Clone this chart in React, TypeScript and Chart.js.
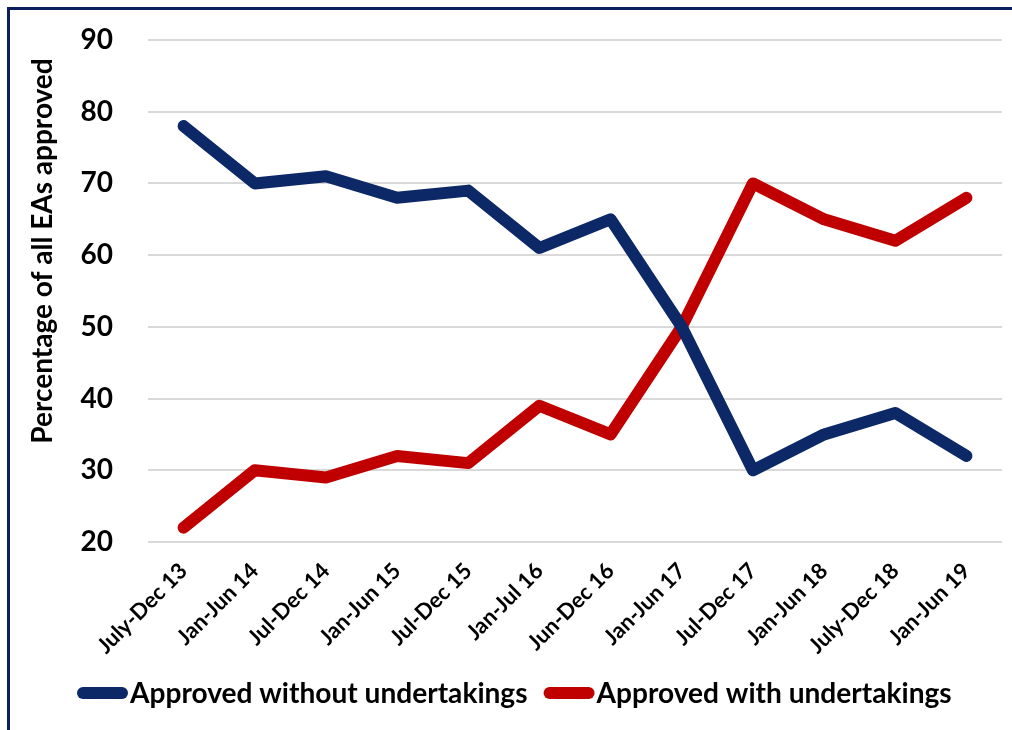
import React, { useEffect, useRef } from "react";
import { Chart, registerables } from "chart.js";

Chart.register(...registerables);

const categories = [
  "July-Dec 13", "Jan-Jun 14", "Jul-Dec 14", "Jan-Jun 15", "Jul-Dec 15", "Jan-Jul 16",
  "Jun-Dec 16", "Jan-Jun 17", "Jul-Dec 17", "Jan-Jun 18", "July-Dec 18", "Jan-Jun 19",
];
const withoutUndertakings = [78, 70, 71, 68, 69, 61, 65, 50, 30, 35, 38, 32];
const withUndertakings = [22, 30, 29, 32, 31, 39, 35, 50, 70, 65, 62, 68];
const seriesNames = ["Approved without undertakings", "Approved with undertakings"];
const yTitle = "Percentage of all EAs approved";

const NAVY = "#0c2866";
const RED = "#c00000";
const FONT = "Lato, 'Open Sans', sans-serif";

const titleAndLegend = {
  id: "titleAndLegend",
  afterDraw(chart: any) {
    const ctx = chart.ctx as CanvasRenderingContext2D;
    ctx.save();
    // y-axis title
    ctx.fillStyle = "#000";
    ctx.font = `bold 28px ${FONT}`;
    ctx.textAlign = "center";
    ctx.textBaseline = "middle";
    ctx.translate(43, 251);
    ctx.rotate(-Math.PI / 2);
    ctx.fillText(yTitle, 0, 0);
    ctx.restore();

    // legend
    ctx.save();
    ctx.font = `bold 28.1px ${FONT}`;
    ctx.textAlign = "left";
    ctx.textBaseline = "middle";
    const y = 693;
    let x = 77;
    chart.data.datasets.forEach((d: any) => {
      ctx.strokeStyle = d.borderColor;
      ctx.lineWidth = 12;
      ctx.lineCap = "round";
      ctx.beginPath();
      ctx.moveTo(x + 6, y);
      ctx.lineTo(x + 45, y);
      ctx.stroke();
      x += 53;
      ctx.fillStyle = "#000";
      ctx.fillText(d.label, x, y + 1);
      x += ctx.measureText(d.label).width + 16;
    });
    ctx.restore();
  },
};

export default function App() {
  const ref = useRef<HTMLCanvasElement>(null);
  useEffect(() => {
    document.body.style.margin = "0";
    const ctx = ref.current!;
    const chart = new Chart(ctx, {
      type: "line",
      data: {
        labels: categories,
        datasets: [
          {
            label: seriesNames[0],
            data: withoutUndertakings,
            borderColor: NAVY,
            backgroundColor: NAVY,
            borderWidth: 12,
            pointRadius: 0,
            borderJoinStyle: "round",
            borderCapStyle: "round",
            tension: 0,
          },
          {
            label: seriesNames[1],
            data: withUndertakings,
            borderColor: RED,
            backgroundColor: RED,
            borderWidth: 12,
            pointRadius: 0,
            borderJoinStyle: "round",
            borderCapStyle: "round",
            tension: 0,
          },
        ],
      },
      options: {
        animation: false,
        responsive: false,
        maintainAspectRatio: false,
        layout: { padding: { left: 12, top: 40, right: 10, bottom: 0 } },
        plugins: {
          tooltip: { enabled: false },
          legend: { display: false },
        },
        scales: {
          x: {
            offset: true,
            grid: { display: false, drawTicks: false },
            border: { display: false },
            ticks: {
              color: "#000",
              font: { family: FONT, size: 22, weight: "bold" },
              minRotation: 45,
              maxRotation: 45,
              padding: 16,
              autoSkip: false,
            },
            afterFit: (s: any) => {
              s.height = 188;
            },
          },
          y: {
            min: 20,
            max: 90,
            grid: { color: "#d9d9d9", lineWidth: 2, drawTicks: false },
            border: { display: false },
            ticks: {
              stepSize: 10,
              color: "#000",
              font: { family: FONT, size: 28, weight: "bold" },
              padding: 35,
            },
            afterFit: (s: any) => {
              s.width = 136;
              s.paddingTop = 0;
              s.paddingBottom = 0;
            },
          },
        },
      },
      plugins: [titleAndLegend],
    });
    return () => chart.destroy();
  }, []);
  return (
    <div style={{ position: "relative", width: 1012, height: 730, overflow: "hidden", background: "#fff" }}>
      <canvas ref={ref} width={1012} height={730} style={{ position: "absolute", left: 0, top: 0 }} />
      <div
        style={{
          position: "absolute",
          left: 7,
          top: 7,
          width: 1100,
          height: 800,
          border: "3px solid #0b1f5e",
          pointerEvents: "none",
        }}
      />
    </div>
  );
}
